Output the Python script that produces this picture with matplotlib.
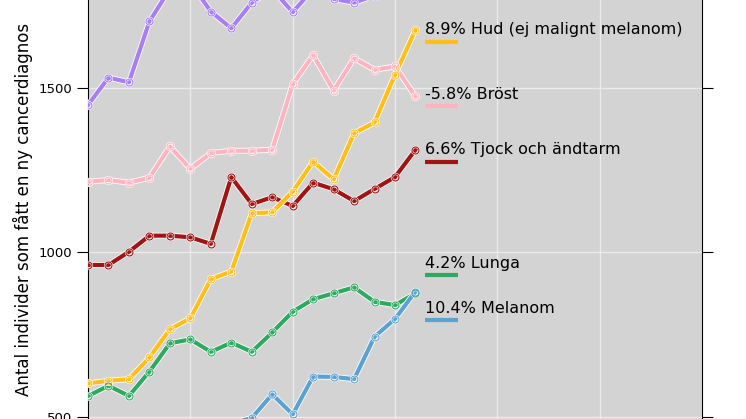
import matplotlib
matplotlib.use("Agg")
import matplotlib.pyplot as plt
import matplotlib.patheffects as pe

x = list(range(17))
purple = [1448, 1531, 1517, 1702, 1800, 1820, 1732, 1681, 1759, 1800, 1730, 1800, 1770, 1759, 1780, 1810, 1850]
pink = [1215, 1220, 1212, 1227, 1322, 1254, 1302, 1309, 1309, 1312, 1511, 1600, 1492, 1590, 1555, 1565, 1474]
red = [962, 962, 1002, 1051, 1051, 1046, 1026, 1229, 1147, 1168, 1141, 1212, 1192, 1156, 1193, 1229, 1312]
yellow = [602, 610, 615, 681, 767, 800, 919, 942, 1119, 1122, 1185, 1276, 1222, 1362, 1395, 1540, 1676]
green = [564, 595, 564, 638, 724, 736, 698, 726, 698, 757, 820, 858, 876, 894, 850, 840, 876]
blue = [390, 400, 410, 420, 440, 450, 470, 480, 497, 569, 508, 623, 622, 615, 744, 798, 881]

series = [
    (purple, "#a67ef5", None, None),
    (pink, "#ffb3c1", "-5.8% Bröst", 1480),
    (red, "#a01414", "6.6% Tjock och ändtarm", 1312),
    (yellow, "#ffbe1a", "8.9% Hud (ej malignt melanom)", 1676),
    (green, "#2eaa60", "4.2% Lunga", 966),
    (blue, "#5ba2d2", "10.4% Melanom", 830),
]

fig = plt.figure(figsize=(7.46, 4.19), dpi=100)
ax = fig.add_axes([0.118, 0.0, 0.823, 1.0])
ax.set_facecolor("#d3d3d3")
ax.grid(True, color="#ebebeb", lw=1)
ax.set_axisbelow(True)
for vals, col, lab, ly in series:
    ax.plot(x, vals, color=col, lw=3,
            path_effects=[pe.Stroke(linewidth=4.2, foreground="white"), pe.Normal()], zorder=3)
    ax.plot(x, vals, ls="none", marker="o", ms=5, mfc="none", mec="white", mew=1.6, zorder=3.5)
    ax.plot(x, vals, ls="none", marker="o", ms=5, mfc="none", mec=col, mew=0.8, zorder=3.6)
    if lab:
        ax.text(16.45, ly, lab, fontsize=11.5, va="center", ha="left", color="black", zorder=4)
        ax.plot([16.45, 18.1], [ly - 36, ly - 36], color=col, lw=3, solid_capstyle="butt", zorder=4)

ax.set_xlim(0, 30)
ax.set_ylim(494, 1767)
ax.set_xticks([0, 5, 10, 15, 20, 25, 30])
ax.set_yticks([500, 1000, 1500])
ax.tick_params(axis="x", length=0, labelbottom=False)
ax.tick_params(axis="y", right=True, labelsize=9.5, length=8)
ax.spines["top"].set_visible(False)
ax.spines["bottom"].set_visible(False)
ax.set_ylabel("Antal individer som fått en ny cancerdiagnos", fontsize=12)
fig.savefig("out.png", dpi=100)
